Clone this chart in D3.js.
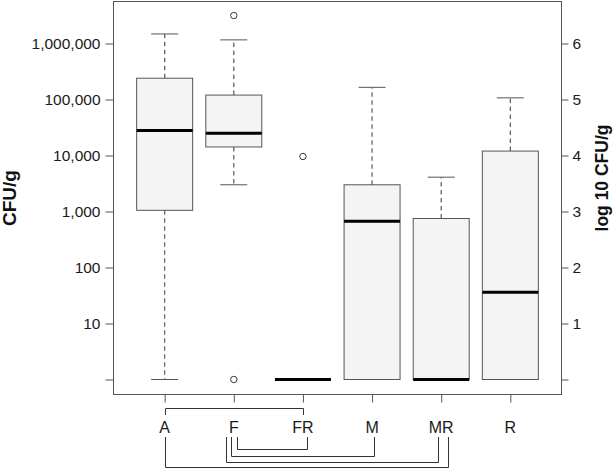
<!DOCTYPE html>
<html>
<head>
<meta charset="utf-8">
<script src="https://cdn.jsdelivr.net/npm/d3@7"></script>
<style>
  html, body { margin: 0; padding: 0; background: #fff; }
  svg { display: block; }
  text { font-family: "Liberation Sans", Arial, sans-serif; }
</style>
</head>
<body>
<svg id="chart" width="613" height="469"></svg>
<script>
// ---- data (CFU/g; 0 is drawn at log10 = 0) ----
const categories = ["A", "F", "FR", "M", "MR", "R"];
const whiskerLow  = [0,       3000,    0, 0,      0,    0];
const q1          = [1050,    14200,   0, 0,      0,    0];
const medians     = [28000,   25000,   0, 670,    0,    36];
const q3          = [240000,  120000,  0, 3000,   750,  12000];
const whiskerHigh = [1480000, 1160000, 0, 165000, 4100, 107000];
const outlierCats   = ["F",     "F", "FR"];
const outlierValues = [3160000, 0,   9600];
const leftTickValues = [1, 10, 100, 1000, 10000, 100000, 1000000];
const leftTickLabels = ["", "10", "100", "1,000", "10,000", "100,000", "1,000,000"];
const rightTickValues = [0, 1, 2, 3, 4, 5, 6];
const rightTickLabels = ["", "1", "2", "3", "4", "5", "6"];
const comparisons = [["A", "FR"], ["F", "FR"], ["F", "M"], ["F", "MR"], ["A", "MR"]];

// ---- layout ----
const svg = d3.select("#chart");
const frame = { left: 113.5, right: 561.5, top: 1.5, bottom: 394.5 };
const lg = v => Math.log10(Math.max(v, 1));

const y = d3.scaleLinear().domain([0, 6]).range([379.5, 43.5]);
const x = d3.scalePoint().domain(categories).range([frame.left, frame.right]).padding(0.74);
const boxW = 56, capW = 27;
const gray = "#555";

// frame
svg.append("rect")
  .attr("x", frame.left).attr("y", frame.top)
  .attr("width", frame.right - frame.left).attr("height", frame.bottom - frame.top)
  .attr("fill", "none").attr("stroke", gray).attr("stroke-width", 1);

// left axis
const leftAxis = d3.axisLeft(y)
  .tickValues(leftTickValues.map(lg))
  .tickFormat((d, i) => leftTickLabels[i])
  .tickSize(8).tickPadding(5);
const gl = svg.append("g").attr("transform", `translate(${frame.left},0)`).call(leftAxis);
gl.select(".domain").remove();
gl.selectAll(".tick line").attr("stroke", gray);
gl.selectAll(".tick text").attr("fill", "#1a1a1a").style("font-size", "15.5px")
  .style("font-family", "'Liberation Sans', Arial, sans-serif");

// right axis
const rightAxis = d3.axisRight(y)
  .tickValues(rightTickValues)
  .tickFormat((d, i) => rightTickLabels[i])
  .tickSize(7).tickPadding(4);
const gr = svg.append("g").attr("transform", `translate(${frame.right},0)`).call(rightAxis);
gr.select(".domain").remove();
gr.selectAll(".tick line").attr("stroke", gray);
gr.selectAll(".tick text").attr("fill", "#1a1a1a").style("font-size", "15.5px")
  .style("font-family", "'Liberation Sans', Arial, sans-serif");

// bottom axis
const bottomAxis = d3.axisBottom(x).tickSize(8).tickFormat(() => "");
const gb = svg.append("g").attr("transform", `translate(0,${frame.bottom})`).call(bottomAxis);
gb.select(".domain").remove();
gb.selectAll(".tick line").attr("stroke", gray);

// category labels
svg.append("g").selectAll("text").data(categories).join("text")
  .attr("x", d => x(d)).attr("y", 433)
  .attr("text-anchor", "middle")
  .attr("fill", "#1a1a1a")
  .style("font-size", "16px")
  .text(d => d);

// axis titles
svg.append("text")
  .attr("transform", `translate(16,198) rotate(-90)`)
  .attr("text-anchor", "middle")
  .style("font-size", "19px").style("font-weight", "bold")
  .attr("fill", "#111")
  .text("CFU/g");
svg.append("text")
  .attr("transform", `translate(608,178) rotate(-90)`)
  .attr("text-anchor", "middle")
  .style("font-size", "17.5px").style("font-weight", "bold")
  .attr("fill", "#111")
  .text("log 10 CFU/g");

// boxes
const boxes = categories.map((c, i) => ({
  c, lo: lg(whiskerLow[i]), q1: lg(q1[i]), med: lg(medians[i]), q3: lg(q3[i]), hi: lg(whiskerHigh[i])
}));
const gBox = svg.append("g");
// whiskers (dashed)
gBox.selectAll("line.wu").data(boxes.filter(b => b.hi > b.q3)).join("line")
  .attr("x1", b => x(b.c)).attr("x2", b => x(b.c))
  .attr("y1", b => y(b.q3)).attr("y2", b => y(b.hi))
  .attr("stroke", "#666").attr("stroke-width", 1.3).attr("stroke-dasharray", "4.5,3.5");
gBox.selectAll("line.wl").data(boxes.filter(b => b.lo < b.q1)).join("line")
  .attr("x1", b => x(b.c)).attr("x2", b => x(b.c))
  .attr("y1", b => y(b.q1)).attr("y2", b => y(b.lo))
  .attr("stroke", "#666").attr("stroke-width", 1.3).attr("stroke-dasharray", "4.5,3.5");
// caps
gBox.selectAll("line.ch").data(boxes.filter(b => b.hi > b.q3)).join("line")
  .attr("x1", b => x(b.c) - capW / 2).attr("x2", b => x(b.c) + capW / 2)
  .attr("y1", b => y(b.hi)).attr("y2", b => y(b.hi))
  .attr("stroke", gray);
gBox.selectAll("line.cl").data(boxes.filter(b => b.lo < b.q1)).join("line")
  .attr("x1", b => x(b.c) - capW / 2).attr("x2", b => x(b.c) + capW / 2)
  .attr("y1", b => y(b.lo)).attr("y2", b => y(b.lo))
  .attr("stroke", gray);
// box rects
gBox.selectAll("rect").data(boxes.filter(b => b.q3 > b.q1)).join("rect")
  .attr("x", b => x(b.c) - boxW / 2).attr("width", boxW)
  .attr("y", b => y(b.q3)).attr("height", b => y(b.q1) - y(b.q3))
  .attr("fill", "#f4f4f4").attr("stroke", gray).attr("stroke-width", 1);
// medians
gBox.selectAll("line.med").data(boxes).join("line")
  .attr("x1", b => x(b.c) - boxW / 2).attr("x2", b => x(b.c) + boxW / 2)
  .attr("y1", b => y(b.med)).attr("y2", b => y(b.med))
  .attr("stroke", "#000").attr("stroke-width", 3);

// outliers
svg.append("g").selectAll("circle").data(outlierCats.map((c, i) => ({ c, v: outlierValues[i] })))
  .join("circle")
  .attr("cx", d => x(d.c)).attr("cy", d => y(lg(d.v)))
  .attr("r", 3.2)
  .attr("fill", "#fff").attr("stroke", "#333").attr("stroke-width", 1);

// comparison brackets (style/layout per bracket)
const bracketLayout = [
  { dx1: 0,    dx2: 0,   yTop: 408.5, yEnd: 415, above: true },
  { dx1: 3,    dx2: 4.5, yTop: 437,   yEnd: 449.5 },
  { dx1: -2.5, dx2: 2,   yTop: 437,   yEnd: 456.5 },
  { dx1: -7.5, dx2: -3,  yTop: 437,   yEnd: 462.5 },
  { dx1: 0,    dx2: 7,   yTop: 437,   yEnd: 467.5 }
];
const gBr = svg.append("g").attr("fill", "none").attr("stroke", "#333").attr("stroke-width", 1);
comparisons.forEach(([a, b], i) => {
  const L = bracketLayout[i];
  const x1 = Math.round(x(a) + L.dx1) + 0.5, x2 = Math.round(x(b) + L.dx2) + 0.5;
  let d;
  if (L.above) {
    d = `M${x1},${L.yEnd}V${L.yTop}H${x2}V${L.yEnd}`;
  } else {
    d = `M${x1},${L.yTop}V${L.yEnd}H${x2}V${L.yTop}`;
  }
  gBr.append("path").attr("d", d);
});
</script>
</body>
</html>
